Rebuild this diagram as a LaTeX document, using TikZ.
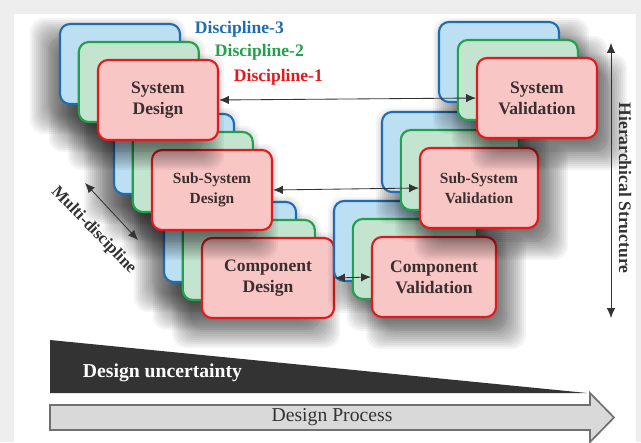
\documentclass[tikz,border=0pt]{standalone}
\usepackage{fontspec}
\setmainfont{Liberation Serif}
\usetikzlibrary{arrows.meta,calc}
\definecolor{discred}{HTML}{E3191C}
\definecolor{discgreen}{HTML}{22A04B}
\definecolor{discblue}{HTML}{1F6CB4}
\definecolor{pinkfill}{HTML}{F9C6C6}
\definecolor{greenfill}{HTML}{C3E4CF}
\definecolor{bluefill}{HTML}{BCDFF3}
\definecolor{boxtext}{HTML}{3B2E2E}
\definecolor{framegray}{HTML}{EEEEEE}
\definecolor{wedgegray}{HTML}{333333}
\definecolor{procfill}{HTML}{D9D9D9}
\definecolor{procline}{HTML}{707070}
\tikzset{
  discbox/.style={rounded corners=0.25cm, line width=1.5pt, minimum height=2cm,
    minimum width=3cm, align=center, text=boxtext,
    font=\bfseries\fontsize{12.5}{15}\selectfont},
  redbox/.style={discbox, draw=discred, fill=pinkfill},
  greenbox/.style={discbox, draw=discgreen, fill=greenfill},
  bluebox/.style={discbox, draw=discblue, fill=bluefill},
  softshade/.style={fill=black, fill opacity=0.045, rounded corners=0.35cm},
  subfont/.style={font=\bfseries\fontsize{11}{14}\selectfont},
  link/.style={<->, draw=wedgegray, line width=0.6pt}
}
% one stack of three discipline boxes:
% name, position, width (cm), shadow x and y shift, front options, text
\newcommand{\discstack}[7]{%
  \foreach \dx/\dy in {-0.95/0.9,-0.48/0.45,0/0}
    \foreach \r in {0,0.05,...,0.5}
      \fill [softshade] ($#2+(\dx,\dy)+(#4,#5)+(-#3/2-\r,-1-\r)$)
        rectangle ($#2+(\dx,\dy)+(#4,#5)+(#3/2+\r,1+\r)$);
  \node [bluebox,minimum width=#3cm] (#1-3) at ($#2+(-0.95,0.9)$) {};
  \node [greenbox,minimum width=#3cm] (#1-2) at ($#2+(-0.48,0.45)$) {};
  \node [redbox,minimum width=#3cm,#6] (#1) at #2 {#7};
}
\begin{document}
\begin{tikzpicture}[>={Latex[length=7pt,width=6pt]}]
\useasboundingbox (0,0) rectangle (16.025,11.05);
\fill [framegray] (0,0) rectangle (16.025,11.05);
\fill [white] (0.35,0) rectangle (15.9,10.7);

% lowest level first, so that the upper boxes lie on top
\discstack{cd}{(6.7,4.1)}{3.3}{-0.3}{-0.3}{}{Component\\Design}
\discstack{cv}{(10.85,4.125)}{3.1}{0.3}{-0.35}{}{Component\\Validation}
\discstack{ssd}{(5.3,6.3)}{3}{-0.3}{-0.3}{subfont}{Sub-System\\Design}
\discstack{ssv}{(11.975,6.35)}{2.95}{0.3}{-0.35}{subfont}{Sub-System\\Validation}
\discstack{sd}{(3.95,8.55)}{3}{-0.3}{-0.3}{}{System\\Design}
\discstack{sv}{(13.425,8.6)}{3}{0.3}{-0.35}{}{System\\Validation}

\node [anchor=west, text=discblue, font=\bfseries\fontsize{12.5}{15}\selectfont] (d3) at (4.75,10.325) {Discipline-3};
\node [anchor=west, text=discgreen, font=\bfseries\fontsize{12.5}{15}\selectfont] (d2) at (5.25,9.75) {Discipline-2};
\node [anchor=west, text=discred, font=\bfseries\fontsize{12.5}{15}\selectfont] (d1) at (5.725,9.125) {Discipline-1};

\draw [link] (sd.east) -- (sv.west);
\draw [link] (ssd.east) -- (ssv.west);
\draw [link] (cd.east) -- (cv.west);

% side arrows
\coordinate (md-a) at (2.125,6.475);
\coordinate (md-b) at (3.45,5.05);
\draw [link] (md-a) -- (md-b);
\node [rotate=-46, text=wedgegray, font=\bfseries\fontsize{12}{14}\selectfont] (md) at (2.34,5.29) {Multi-discipline};
\coordinate (hs-a) at (15.275,9.975);
\coordinate (hs-b) at (15.275,3.1);
\draw [link] (hs-a) -- (hs-b);
\node [rotate=-90, text=wedgegray, font=\bfseries\fontsize{12.5}{15}\selectfont] (hs) at (15.625,6.35) {Hierarchical Structure};

% bottom bars
\fill [wedgegray] (1.25,2.55) -- (14.675,1.225) -- (1.25,1.225) -- cycle;
\node [anchor=west, text=white, font=\bfseries\fontsize{14}{16}\selectfont] (du) at (1.95,1.725) {Design uncertainty};
\draw [fill=procfill, draw=procline, line width=1.2pt] (1.25,0.3) -- (14.75,0.3) -- (14.75,0) -- (15.35,0.6125)
  -- (14.75,1.225) -- (14.75,0.925) -- (1.25,0.925) -- cycle;
\node [text=wedgegray, font=\fontsize{14}{16}\selectfont] (dp) at (8.3,0.6125) {Design Process};
\end{tikzpicture}
\end{document}
